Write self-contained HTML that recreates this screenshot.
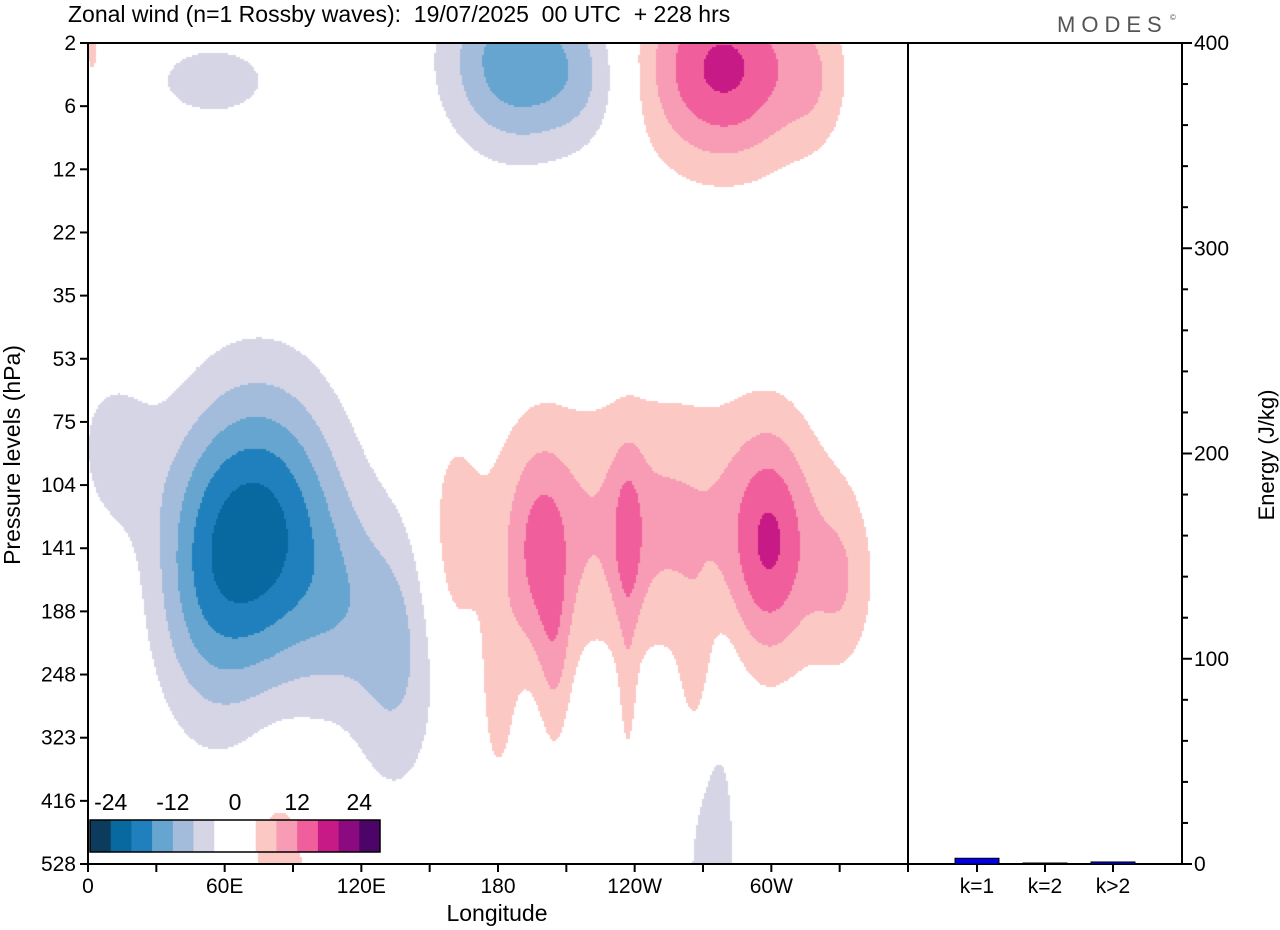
<!DOCTYPE html>
<html><head><meta charset="utf-8"><style>
body{margin:0;background:#fff;font-family:"Liberation Sans",sans-serif}
#wrap{position:relative;width:1280px;height:930px;overflow:hidden}
canvas{position:absolute;left:88px;top:43px}
svg{position:absolute;left:0;top:0}
text{white-space:pre}
</style></head><body>
<div id="wrap">
<canvas id="field" width="820" height="821"></canvas>
<svg id="svg" width="1280" height="930"></svg>
</div>
<script>
// ---- data ----
const levels = ["2","6","12","22","35","53","75","104","141","188","248","323","416","528"];
const lonTicks = [0,60,120,180,240,300];
const lonLabels = ["0","60E","120E","180","120W","60W"];
// Wind field as sum of blobs: lon centre, level-index centre, amplitude (m/s), lon sigma, level sigma
const blobLon = [76, 135, 10, 50, 188, 220, 55, 279, 250, 198, 237, 300, 180, 268, 330, 160, 274, 84, 2, 205, 237, 320, 110];
const blobLev = [7.8, 9.6, 6.5, 8.8, 0.3, 0.6, 0.6, 0.4, 7.6, 8.2, 7.9, 8.0, 10.4, 10.3, 8.6, 8.0, 13.2, 13.3, 0.1, 9.8, 10.4, 0.6, 9.0];
const blobAmp = [-21.5, -9, -6, -6, -15, -5, -6, 17, 9, 8.5, 6.5, 11, 5, 6, 6, 5, -7.5, 7, 5, 5, 4, 4, -4];
const blobSx  = [26, 14, 14, 16, 22, 14, 22, 26, 55, 10, 5, 12, 6, 6, 10, 8, 8, 10, 3, 5, 3, 10, 12];
const blobSy  = [1.7, 1.6, 1.0, 1.6, 1.0, 0.8, 0.5, 1.1, 1.5, 1.3, 1.0, 1.3, 1.2, 1.1, 1.0, 1.2, 2.6, 1.3, 0.5, 1.2, 1.0, 0.8, 1.0];
const cbColors = ["#0b3c5d","#0868a0","#2080bd","#65a5cf","#a3bcdb","#d5d5e6","#ffffff","#ffffff","#fbc8c4","#f89bb5","#f05f9c","#c71a86","#8b0a7f","#4d0468"];
const cbLabels = ["-24","-12","0","12","24"];
const barCats = ["k=1","k=2","k>2"];
const barVals = [2.8, 0.4, 1.0];
const energyTicks = [0,100,200,300,400];

// ---- axes ----
const X0=88, X1=908, Y0=43, Y1=864;
const x = lon => X0 + lon/360*(X1-X0);
const y = li => Y0 + li/13*(Y1-Y0);
const eY = v => Y1 - v/400*(Y1-Y0);
const barX = i => 977 + i*68;

// ---- field ----
const ctx = document.getElementById('field').getContext('2d');
function val(lon, li){
  let s=0;
  for(let k=0;k<blobLon.length;k++){
    let dl = Math.abs(lon-blobLon[k]); if(dl>180) dl=360-dl;
    const a=dl/blobSx[k], b=(li-blobLev[k])/blobSy[k];
    s += blobAmp[k]*Math.exp(-0.5*(a*a+b*b));
  }
  return s;
}
function colorFor(v){
  let idx = Math.floor(v/4)+7;
  idx = Math.max(0, Math.min(13, idx));
  return cbColors[idx];
}
const st=2;
for(let py=0;py<821;py+=st){
  for(let px=0;px<820;px+=st){
    const v = val((px+1)/820*360, (py+1)/821*13);
    const c = colorFor(v);
    if(c!=="#ffffff"){ctx.fillStyle=c;ctx.fillRect(px,py,st,st);}
  }
}

// ---- svg ----
const svg=document.getElementById('svg');
const NS="http://www.w3.org/2000/svg";
function el(tag, attrs, text){const e=document.createElementNS(NS,tag);for(const k in attrs)e.setAttribute(k,attrs[k]);if(text!==undefined)e.textContent=text;svg.appendChild(e);return e;}

let e;
e=el('rect',{x:X0,y:Y0,width:X1-X0,height:Y1-Y0,fill:'none',stroke:'#000','stroke-width':2});


e=el('rect',{x:X1,y:Y0,width:1182-X1,height:Y1-Y0,fill:'none',stroke:'#000','stroke-width':2});



levels.forEach((l,i)=>{
  el('line',{x1:X0-8,x2:X0,y1:y(i),y2:y(i),stroke:'#000','stroke-width':2});
  const t=el('text',{x:X0-12,y:y(i)+7,'text-anchor':'end','font-size':21},l);
  
  
});
for(let lon=0;lon<=360;lon+=30){
  el('line',{x1:x(lon),x2:x(lon),y1:Y1,y2:Y1+8,stroke:'#000','stroke-width':2});
}
lonTicks.forEach((lon,i)=>{
  const t=el('text',{x:x(lon),y:893,'text-anchor':'middle','font-size':21},lonLabels[i]);
  
  
});
// colorbar
const cbX=90, cbW=290/14;
cbColors.forEach((c,i)=>{
  const r=el('rect',{x:cbX+i*cbW,y:820,width:cbW+0.3,height:32,fill:c});
  
  
});
e=el('rect',{x:cbX,y:820,width:290,height:32,fill:'none',stroke:'#000','stroke-width':1.5});


cbLabels.forEach((l,i)=>{
  const t=el('text',{x:cbX+(1+3*i)*cbW,y:810,'text-anchor':'middle','font-size':23},l);
  
  
});
// energy axis
for(let v=0;v<=400;v+=20){
  const major=v%100===0;
  el('line',{x1:1182,x2:1182+(major?10:6),y1:eY(v),y2:eY(v),stroke:'#000','stroke-width':2});
}
energyTicks.forEach(v=>{
  const t=el('text',{x:1194,y:eY(v)+7,'font-size':21},String(v));
  
  
});
barCats.forEach((c,i)=>{
  const h=Math.max(1,Y1-eY(barVals[i]));
  const r=el('rect',{x:barX(i)-22,y:Y1-h,width:44,height:h,fill:'#0000ee',stroke:'#000','stroke-width':1});
  
  
  el('line',{x1:barX(i),x2:barX(i),y1:Y1,y2:Y1+8,stroke:'#000','stroke-width':2});
  const t=el('text',{x:barX(i),y:893,'text-anchor':'middle','font-size':21},c);
  
  
});
// titles
e=el('text',{x:68,y:22,'font-size':23,'xml:space':'preserve'},'Zonal wind (n=1 Rossby waves):  19/07/2025  00 UTC  + 228 hrs');


e=el('text',{x:1057,y:32,'font-size':22,fill:'#555','letter-spacing':'6'},'MODES');


e=el('text',{x:1170,y:20,'font-size':8,fill:'#555'},'©');
e=el('text',{x:497,y:921,'text-anchor':'middle','font-size':23},'Longitude');


e=el('text',{x:20,y:455,'text-anchor':'middle','font-size':23,transform:'rotate(-90 20 455)'},'Pressure levels (hPa)');


e=el('text',{x:1274,y:455,'text-anchor':'middle','font-size':22,transform:'rotate(-90 1274 455)'},'Energy (J/kg)');


</script>
</body></html>
